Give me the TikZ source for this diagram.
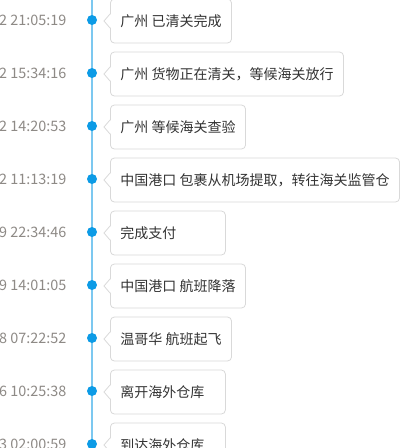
\documentclass[tikz,border=0pt]{standalone}
\usepackage{fontspec}
\setmainfont{Noto Sans CJK SC}
\definecolor{tl}{HTML}{7CC8F0}
\definecolor{dotc}{HTML}{0C9BE6}
\definecolor{bord}{HTML}{D9D9D9}
\definecolor{timec}{HTML}{8E8A86}
\definecolor{txt}{HTML}{333333}
\newcommand{\lfill}[2]{\makebox[#1][l]{#2}}
\tikzset{
  evbox/.style={draw=bord, fill=white, rounded corners=4pt, line width=0.8pt, anchor=west,
    minimum height=44pt, inner xsep=10pt, inner ysep=0pt, text=txt,
    font=\fontsize{14}{16}\selectfont},
  evdot/.style={circle, fill=dotc, minimum size=10pt, inner sep=0pt},
  evtime/.style={anchor=east, text=timec, inner sep=0pt, font=\fontsize{14.4}{16}\selectfont},
  tline/.style={draw=tl, line width=2pt},
  notch/.style={draw=bord, line width=0.8pt}
}
\begin{document}
\begin{tikzpicture}[x=1pt,y=-1pt]
\useasboundingbox[fill=white] (0,0) rectangle (412,448);
\coordinate (ltop) at (92,-5);
\coordinate (lbot) at (92,460);
\draw[tline] (ltop) -- (lbot);
% boxes
\node[evbox] (b1) at (110,21) {广州 已清关完成};
\node[evbox] (b2) at (110,74) {广州 货物正在清关，等候海关放行};
\node[evbox] (b3) at (110,127) {广州 等候海关查验};
\node[evbox] (b4) at (110,180) {中国港口 包裹从机场提取，转往海关监管仓};
\node[evbox] (b5) at (110,233) {\lfill{95pt}{完成支付}};
\node[evbox] (b6) at (110,286) {中国港口 航班降落};
\node[evbox] (b7) at (110,339) {温哥华 航班起飞};
\node[evbox] (b8) at (110,392) {\lfill{95pt}{离开海外仓库}};
\node[evbox] (b9) at (110,445) {\lfill{95pt}{到达海外仓库}};
\foreach \n in {1,...,9} {
  \fill[white] (b\n.west) ++(0.8,-7) -- ++(-6.8,7) -- ++(6.8,7) -- cycle;
  \draw[notch] (b\n.west) ++(0,-7) -- ++(-6,7) -- ++(6,7);
}
% dots
\node[evdot] (d1) at (92,20) {};
\node[evdot] (d2) at (92,73) {};
\node[evdot] (d3) at (92,126) {};
\node[evdot] (d4) at (92,179) {};
\node[evdot] (d5) at (92,232) {};
\node[evdot] (d6) at (92,285) {};
\node[evdot] (d7) at (92,338) {};
\node[evdot] (d8) at (92,391) {};
\node[evdot] (d9) at (92,444) {};
% times
\node[evtime] (t1) at (66.5,20) {2 21:05:19};
\node[evtime] (t2) at (66.5,73) {2 15:34:16};
\node[evtime] (t3) at (66.5,126) {2 14:20:53};
\node[evtime] (t4) at (66.5,179) {2 11:13:19};
\node[evtime] (t5) at (66.5,232) {9 22:34:46};
\node[evtime] (t6) at (66.5,285) {9 14:01:05};
\node[evtime] (t7) at (66.5,338) {8 07:22:52};
\node[evtime] (t8) at (66.5,391) {6 10:25:38};
\node[evtime] (t9) at (66.5,444) {3 02:00:59};
\end{tikzpicture}
\end{document}
